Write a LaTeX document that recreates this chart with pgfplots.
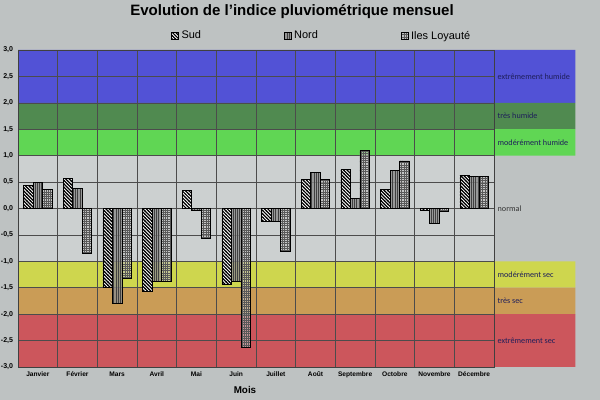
\documentclass[border=0pt]{standalone}
\usepackage{pgfplots}
\pgfplotsset{compat=1.18}
\usepackage{fontspec}
\setmainfont{Liberation Sans}
\newfontfamily\carlito{Carlito}
\usetikzlibrary{patterns}
\pgfdeclarepatternformonly{sudhatch}{\pgfqpoint{-1pt}{-1pt}}{\pgfqpoint{3.4pt}{3.4pt}}{\pgfqpoint{2.4pt}{2.4pt}}{%
  \pgfsetlinewidth{0.85pt}%
  \pgfpathmoveto{\pgfqpoint{-0.2pt}{2.6pt}}\pgfpathlineto{\pgfqpoint{2.6pt}{-0.2pt}}%
  \pgfusepath{stroke}}
\pgfdeclarepatternformonly{nordlines}{\pgfqpoint{-0.5pt}{-0.5pt}}{\pgfqpoint{2.1pt}{2.1pt}}{\pgfqpoint{1.6pt}{1.6pt}}{%
  \pgfsetlinewidth{0.35pt}%
  \pgfpathmoveto{\pgfqpoint{0.8pt}{-0.1pt}}\pgfpathlineto{\pgfqpoint{0.8pt}{1.7pt}}%
  \pgfusepath{stroke}}
\pgfdeclarepatternformonly{ilgrid}{\pgfqpoint{-0.5pt}{-0.5pt}}{\pgfqpoint{2.1pt}{2.1pt}}{\pgfqpoint{1.6pt}{1.6pt}}{%
  \pgfsetlinewidth{0.3pt}%
  \pgfpathmoveto{\pgfqpoint{0.8pt}{-0.1pt}}\pgfpathlineto{\pgfqpoint{0.8pt}{1.7pt}}%
  \pgfpathmoveto{\pgfqpoint{-0.1pt}{0.8pt}}\pgfpathlineto{\pgfqpoint{1.7pt}{0.8pt}}%
  \pgfusepath{stroke}}
\definecolor{bgcol}{RGB}{190,194,194}
\definecolor{normalband}{RGB}{204,208,208}
\definecolor{blueband}{RGB}{82,82,214}
\definecolor{dgreenband}{RGB}{80,138,80}
\definecolor{lgreenband}{RGB}{96,214,84}
\definecolor{yellowband}{RGB}{206,214,78}
\definecolor{orangeband}{RGB}{202,156,86}
\definecolor{redband}{RGB}{204,86,92}
\definecolor{labcol}{RGB}{30,30,90}
\begin{document}
\begin{tikzpicture}
\begin{axis}[
  at={(0,0)}, anchor=south west,
  scale only axis, width=11.9cm, height=7.925cm,
  xmin=0, xmax=12, ymin=-3, ymax=3,
  clip=false, set layers,
  axis line style={black!75, line width=0.5pt},
  xtick={0.5,1.5,2.5,3.5,4.5,5.5,6.5,7.5,8.5,9.5,10.5,11.5},
  xticklabels={Janvier,Février,Mars,Avril,Mai,Juin,Juillet,Août,Septembre,Octobre,Novembre,Décembre},
  minor xtick={0,1,2,3,4,5,6,7,8,9,10,11,12},
  xminorgrids=true, xmajorgrids=false,
  ytick={-3,-2.5,-2,-1.5,-1,-0.5,0,0.5,1,1.5,2,2.5,3},
  ymajorgrids=true,
  grid style={black!70, line width=0.45pt},
  minor grid style={black!70, line width=0.45pt},
  major tick length=0pt, minor tick length=0pt,
  x tick label style={font=\bfseries\fontsize{4.7}{5}\selectfont},
  y tick label style={font=\bfseries\fontsize{5}{6}\selectfont,
     /pgf/number format/.cd, fixed, fixed zerofill, precision=1, use comma, assume math mode=true},
  legend style={draw=none, fill=none, font=\fontsize{7.8}{9}\selectfont,
     at={(0.639,1.044)}, anchor=center,
     /tikz/every even column/.append style={column sep=2.0cm}},
  legend columns=3,
  legend image code/.code={\draw[#1] (0cm,-0.09cm) rectangle (0.17cm,0.09cm);},
]
\begin{pgfonlayer}{axis background}
\fill[bgcol] (axis cs:-0.4538,-3.6246) rectangle (axis cs:14.672,3.9464);
\end{pgfonlayer}
% bands
\addplot[on layer=axis background, draw=none, fill=blueband, forget plot] coordinates {(0,2) (14.05,2) (14.05,3) (0,3) (0,2)};
\addplot[on layer=axis background, draw=none, fill=dgreenband, forget plot] coordinates {(0,1.5) (14.05,1.5) (14.05,2) (0,2) (0,1.5)};
\addplot[on layer=axis background, draw=none, fill=lgreenband, forget plot] coordinates {(0,1) (14.05,1) (14.05,1.5) (0,1.5) (0,1)};
\addplot[on layer=axis background, draw=none, fill=normalband, forget plot] coordinates {(0,-1) (12,-1) (12,1) (0,1) (0,-1)};
\addplot[on layer=axis background, draw=none, fill=yellowband, forget plot] coordinates {(0,-1.5) (14.05,-1.5) (14.05,-1) (0,-1) (0,-1.5)};
\addplot[on layer=axis background, draw=none, fill=orangeband, forget plot] coordinates {(0,-2) (14.05,-2) (14.05,-1.5) (0,-1.5) (0,-2)};
\addplot[on layer=axis background, draw=none, fill=redband, forget plot] coordinates {(0,-3) (14.05,-3) (14.05,-2) (0,-2) (0,-3)};
% bars
\addplot[ybar, bar width=0.24, bar shift=-0.24, draw=black, line width=0.5pt, fill=white,
  postaction={pattern=sudhatch}]
  coordinates {(0.5,0.44) (1.5,0.57) (2.5,-1.49) (3.5,-1.57) (4.5,0.34) (5.5,-1.43) (6.5,-0.25) (7.5,0.55) (8.5,0.74) (9.5,0.36) (10.5,-0.04) (11.5,0.63)};
\addlegendentry{Sud}
\addplot[ybar, bar width=0.24, bar shift=0, draw=black, line width=0.5pt, fill=black!45, fill opacity=0.8,
  postaction={pattern=nordlines, pattern color=black!75}]
  coordinates {(0.5,0.50) (1.5,0.38) (2.5,-1.79) (3.5,-1.37) (4.5,-0.04) (5.5,-1.37) (6.5,-0.25) (7.5,0.69) (8.5,0.19) (9.5,0.72) (10.5,-0.29) (11.5,0.61)};
\addlegendentry{Nord}
\addplot[ybar, bar width=0.24, bar shift=0.24, draw=black, line width=0.5pt, fill=black!25, fill opacity=0.6,
  postaction={pattern=ilgrid, pattern color=black!65}]
  coordinates {(0.5,0.36) (1.5,-0.84) (2.5,-1.33) (3.5,-1.37) (4.5,-0.57) (5.5,-2.63) (6.5,-0.82) (7.5,0.55) (8.5,1.10) (9.5,0.90) (10.5,-0.05) (11.5,0.61)};
\addlegendentry{Iles Loyauté}
% band labels
\node[anchor=west, text=labcol, font=\carlito\fontsize{5.8}{7}\selectfont, inner sep=1pt] at (axis cs:12.05,2.5) {extrêmement humide};
\node[anchor=west, text=labcol, font=\carlito\fontsize{5.8}{7}\selectfont, inner sep=1pt] at (axis cs:12.05,1.75) {très humide};
\node[anchor=west, text=labcol, font=\carlito\fontsize{5.8}{7}\selectfont, inner sep=1pt] at (axis cs:12.05,1.25) {modérément humide};
\node[anchor=west, text=black!80, font=\carlito\fontsize{5.8}{7}\selectfont, inner sep=1pt] at (axis cs:12.05,0) {normal};
\node[anchor=west, text=labcol, font=\carlito\fontsize{5.8}{7}\selectfont, inner sep=1pt] at (axis cs:12.05,-1.25) {modérément sec};
\node[anchor=west, text=labcol, font=\carlito\fontsize{5.8}{7}\selectfont, inner sep=1pt] at (axis cs:12.05,-1.75) {très sec};
\node[anchor=west, text=labcol, font=\carlito\fontsize{5.8}{7}\selectfont, inner sep=1pt] at (axis cs:12.05,-2.5) {extrêmement sec};
\end{axis}
\node[font=\bfseries\fontsize{10.7}{12}\selectfont] at (6.85,8.875) {Evolution de l'indice pluviométrique mensuel};
\node[font=\bfseries\fontsize{7}{8}\selectfont] at (5.675,-0.575) {Mois};
\pgfresetboundingbox
\path[use as bounding box] (-0.45,-0.825) rectangle (14.55,9.175);
\end{tikzpicture}
\end{document}
